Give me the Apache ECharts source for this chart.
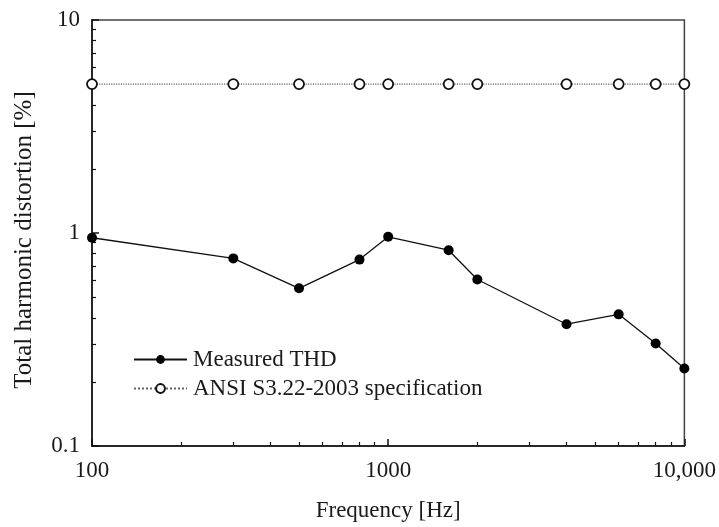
<!DOCTYPE html>
<html>
<head>
<meta charset="utf-8">
<script src="https://cdn.jsdelivr.net/npm/echarts@6/dist/echarts.min.js"></script>
<style>html,body{margin:0;padding:0;background:#fff}#c{width:719px;height:527px}</style>
</head>
<body>
<div id="c"></div>
<script>
const frequencies = [100, 300, 500, 800, 1000, 1600, 2000, 4000, 6000, 8000, 10000];
const measuredTHD = [0.95, 0.76, 0.55, 0.75, 0.96, 0.83, 0.605, 0.373, 0.415, 0.303, 0.231];
const ansiSpec = [5, 5, 5, 5, 5, 5, 5, 5, 5, 5, 5];
const xMajorTicks = [100, 1000, 10000];
const xTickLabels = ['100', '1000', '10,000'];
const xMinorTicks = [200, 300, 400, 500, 600, 700, 800, 900, 2000, 3000, 4000, 5000, 6000, 7000, 8000, 9000];
const yMajorTicks = [0.1, 1, 10];
const yTickLabels = ['0.1', '1', '10'];
const yMinorTicks = [0.2, 0.3, 0.4, 0.5, 0.6, 0.7, 0.8, 0.9, 2, 3, 4, 5, 6, 7, 8, 9];
const seriesNames = ['Measured THD', 'ANSI S3.22-2003 specification'];

const FONT = 'Liberation Serif';
const TXT = '#1a1a1a';
const chart = echarts.init(document.getElementById('c'));

function labelFor(ticks, labels) {
  return function (v) {
    for (let i = 0; i < ticks.length; i++) {
      if (Math.abs(Math.log10(v) - Math.log10(ticks[i])) < 1e-6) return labels[i];
    }
    return '';
  };
}

chart.setOption({
  animation: false,
  textStyle: { fontFamily: FONT },
  grid: { left: 92, right: 34, top: 20, bottom: 80, show: true, borderColor: '#444', borderWidth: 1.5, backgroundColor: 'transparent' },
  legend: {
    left: 128, top: 343, orient: 'vertical',
    itemWidth: 53, itemHeight: 11, itemGap: 6,
    textStyle: { fontFamily: FONT, fontSize: 23, color: TXT, padding: [0, 0, 0, 1] },
    data: seriesNames
  },
  xAxis: [{
    type: 'log', logBase: 10, min: 100, max: 10000,
    name: 'Frequency [Hz]', nameLocation: 'middle', nameGap: 53,
    nameTextStyle: { fontFamily: FONT, fontSize: 23, color: TXT },
    axisLine: { lineStyle: { color: '#111', width: 1.5 } },
    axisTick: { inside: true, length: 7, customValues: xMajorTicks, lineStyle: { color: '#111', width: 1.5 } },
    axisLabel: { customValues: xMajorTicks, formatter: labelFor(xMajorTicks, xTickLabels), fontFamily: FONT, fontSize: 23, color: TXT, margin: 13 },
    splitLine: { show: false }, minorTick: { show: false }
  }, {
    type: 'log', logBase: 10, min: 100, max: 10000, position: 'bottom', offset: 0,
    axisLine: { show: false },
    axisTick: { inside: true, length: 4, customValues: xMinorTicks, lineStyle: { color: '#111', width: 1.2 } },
    axisLabel: { show: false }, splitLine: { show: false }
  }],
  yAxis: [{
    type: 'log', logBase: 10, min: 0.1, max: 10,
    name: 'Total harmonic distortion [%]', nameLocation: 'middle', nameGap: 55,
    nameTextStyle: { fontFamily: FONT, fontSize: 25, color: TXT, padding: [0, 14, 0, 0] },
    axisLine: { lineStyle: { color: '#111', width: 1.5 } },
    axisTick: { inside: true, length: 7, customValues: yMajorTicks, lineStyle: { color: '#111', width: 1.5 } },
    axisLabel: { customValues: yMajorTicks, formatter: labelFor(yMajorTicks, yTickLabels), fontFamily: FONT, fontSize: 23, color: TXT, margin: 12 },
    splitLine: { show: false }
  }, {
    type: 'log', logBase: 10, min: 0.1, max: 10, position: 'left', offset: 0,
    axisLine: { show: false },
    axisTick: { inside: true, length: 4, customValues: yMinorTicks, lineStyle: { color: '#111', width: 1.2 } },
    axisLabel: { show: false }, splitLine: { show: false }
  }],
  series: [{
    name: seriesNames[1], type: 'line', z: 2,
    data: frequencies.map((f, i) => [f, ansiSpec[i]]),
    symbol: 'circle', symbolSize: 10,
    itemStyle: { color: '#fff', borderColor: '#111', borderWidth: 1.8 },
    lineStyle: { color: '#666', width: 1.2, type: 'dotted' }
  }, {
    name: seriesNames[0], type: 'line', z: 3,
    data: frequencies.map((f, i) => [f, measuredTHD[i]]),
    symbol: 'circle', symbolSize: 10,
    itemStyle: { color: '#000' },
    lineStyle: { color: '#111', width: 1.3 }
  }]
});
</script>
</body>
</html>
